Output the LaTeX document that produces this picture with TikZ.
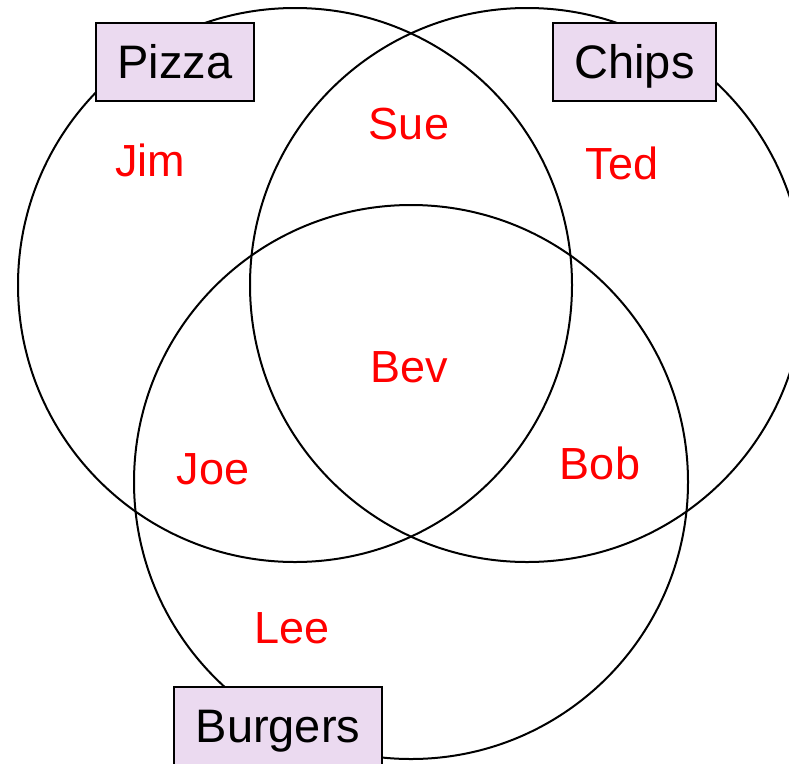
\documentclass[tikz,border=0pt]{standalone}
\usepackage{fontspec}
\setmainfont{Liberation Sans}
\definecolor{setfill}{RGB}{235,218,240}
\tikzset{
  ring/.style={draw=black, line width=2pt},
  setbox/.style={draw=black, line width=2pt, fill=setfill, minimum height=78pt,
    text height=33pt, text depth=0pt, inner sep=0pt, font=\fontsize{47}{56}\selectfont},
  member/.style={text=red, anchor=base, inner sep=0pt, font=\fontsize{45}{54}\selectfont}
}
\begin{document}
\begin{tikzpicture}[x=1pt,y=-1pt]
\useasboundingbox (0,0) rectangle (789,763);
\clip (0,0) rectangle (789,763);
\begin{scope}
  % Circles
  \coordinate (cpizza)   at (295,285);
  \coordinate (cchips)   at (527,285);
  \coordinate (cburgers) at (411,482);
  \foreach \c in {cpizza,cchips,cburgers} {
    \draw[ring] (\c) circle[radius=277pt];
  }

  % Set labels
  \node[setbox, minimum width=158pt] (pizza)   at (175,62)    {Pizza};
  \node[setbox, minimum width=163pt] (chips)   at (634.5,62)  {Chips};
  \node[setbox, minimum width=208pt] (burgers) at (278,726)   {Burgers};

  % Names
  \node[member] (jim) at (150,176) {Jim};
  \node[member] (sue) at (409,139) {Sue};
  \node[member] (ted) at (622,179) {Ted};
  \node[member] (bev) at (409,382) {Bev};
  \node[member] (joe) at (213,484) {Joe};
  \node[member] (bob) at (600,479) {Bob};
  \node[member] (lee) at (292,643) {Lee};
\end{scope}
\end{tikzpicture}
\end{document}
